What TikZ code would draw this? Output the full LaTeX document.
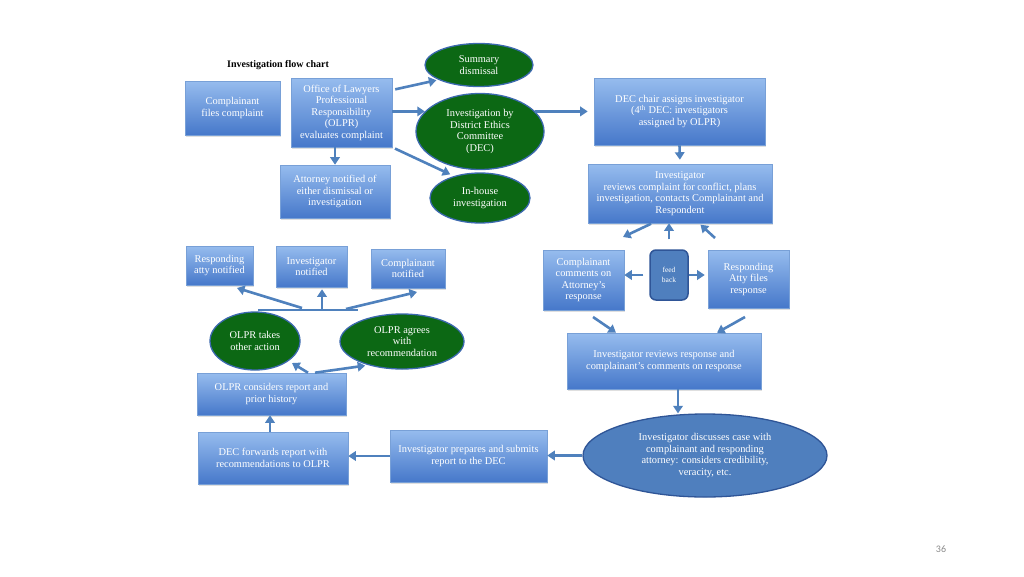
\documentclass[tikz,border=0pt]{standalone}
\usepackage{fontspec}
\setmainfont{Liberation Serif}
\newfontfamily\pgnumfont{Carlito}
\usetikzlibrary{arrows.meta,shapes.geometric,shadows}
\definecolor{arr}{RGB}{79,129,189}
\definecolor{boxtop}{RGB}{150,188,238}
\definecolor{boxbot}{RGB}{70,120,202}
\definecolor{boxline}{RGB}{120,160,215}
\definecolor{gfill}{RGB}{12,104,20}
\definecolor{gline}{RGB}{60,105,175}
\definecolor{bfill}{RGB}{79,127,190}
\definecolor{bline}{RGB}{47,85,151}
\begin{document}
\begin{tikzpicture}[x=1pt,y=-1pt,
  bx/.style={rectangle, draw=boxline, line width=0.6pt, top color=boxtop, bottom color=boxbot,
    text=white, align=center, font=\fontsize{10.4}{11.5}\selectfont, inner sep=1pt,
    drop shadow={opacity=0.25, shadow xshift=1pt, shadow yshift=-1.5pt}},
  gel/.style={ellipse, draw=gline, line width=1.3pt, fill=gfill, text=white, align=center,
    font=\fontsize{10.4}{11.5}\selectfont, inner sep=0pt},
  bel/.style={ellipse, draw=bline, line width=1.3pt, fill=bfill, text=white, align=center,
    font=\fontsize{10.4}{11.5}\selectfont, inner sep=0pt},
  fbbox/.style={rectangle, rounded corners=6pt, draw=bline, line width=1.5pt, fill=bfill, text=white,
    align=center, font=\fontsize{7.5}{10}\selectfont, inner sep=0pt},
  ar/.style={draw=arr, line width=2.6pt, -{Triangle[length=7.5pt,width=9.5pt]}},
  arline/.style={draw=arr, line width=2.6pt}
]
\fill[white] (0,0) rectangle (1024,576);
\useasboundingbox (0,0) rectangle (1024,576);

\node[font=\bfseries\fontsize{10}{11}\selectfont] (title) at (278,65) {Investigation flow chart};
\node[font=\pgnumfont\fontsize{10}{11}\selectfont, text=black!45] (pg) at (941,549) {36};

% top row
\node[bx, minimum width=95pt, minimum height=54pt] (cf) at (232.5,108) {Complainant\\files complaint};
\node[bx, minimum width=101pt, minimum height=69pt] (olpr) at (341.5,112.5) {Office of Lawyers\\Professional\\Responsibility\\(OLPR)\\evaluates complaint};
\node[bx, minimum width=110pt, minimum height=53pt] (atty) at (335,191.5) {Attorney notified of\\either dismissal or\\investigation};
\node[gel, minimum width=108pt, minimum height=43pt] (sum) at (479,65) {Summary\\dismissal};
\node[gel, minimum width=128pt, minimum height=76pt] (dec) at (480,131.5) {Investigation by\\District Ethics\\Committee\\(DEC)};
\node[gel, minimum width=100pt, minimum height=50pt] (inh) at (480,198) {In-house\\investigation};
\node[bx, minimum width=171pt, minimum height=67pt] (chair) at (679.5,111.5) {DEC chair assigns investigator\\(4\textsuperscript{th} DEC: investigators\\assigned by OLPR)};
\node[bx, minimum width=184pt, minimum height=59pt] (inv) at (680,193.5) {Investigator\\reviews complaint for conflict, plans\\investigation, contacts Complainant and\\Respondent};

% feedback row
\node[bx, minimum width=81pt, minimum height=60pt] (cc) at (583.5,280) {Complainant\\comments on\\Attorney’s\\response};
\node[fbbox, minimum width=38pt, minimum height=50pt] (fb) at (669,275) {feed\\back};
\node[bx, minimum width=81pt, minimum height=58pt] (ra) at (748.5,279) {Responding\\Atty files\\response};
\node[bx, minimum width=194pt, minimum height=56pt] (irr) at (664,361) {Investigator reviews response and\\complainant’s comments on response};
\node[bel, minimum width=244pt, minimum height=83pt] (disc) at (705,455.5) {Investigator discusses case with\\complainant and responding\\attorney: considers credibility,\\veracity, etc.};

% bottom row
\node[bx, minimum width=157pt, minimum height=52pt] (prep) at (468.5,456) {Investigator prepares and submits\\report to the DEC};
\node[bx, minimum width=150pt, minimum height=52pt] (fwd) at (273,458) {DEC forwards report with\\recommendations to OLPR};
\node[bx, minimum width=149pt, minimum height=42pt] (cons) at (271.5,394) {OLPR considers report and\\prior history};
\node[gel, minimum width=90pt, minimum height=58pt] (other) at (255,341) {OLPR takes\\other action};
\node[gel, minimum width=124pt, minimum height=55pt] (agree) at (402,341.5) {OLPR agrees\\with\\recommendation};
\node[bx, minimum width=67pt, minimum height=39pt] (rn) at (219.5,265.5) {Responding\\atty notified};
\node[bx, minimum width=71pt, minimum height=41pt] (in) at (311.5,266.5) {Investigator\\notified};
\node[bx, minimum width=74pt, minimum height=39pt] (cn) at (408,268.5) {Complainant\\notified};

% free ends
\coordinate (fbl) at (623,237);
\coordinate (fbr) at (715,238);
\coordinate (c1) at (593,317);
\coordinate (c2) at (745,317);
\coordinate (o1) at (292,363);
\coordinate (b1) at (258,310);
\coordinate (b2) at (358,310);
\coordinate (n1) at (237,288);
\coordinate (n3) at (417,292);

% connectors
\draw[ar, shorten <=3pt, shorten >=2pt] (olpr.east |- 0,90) -- (sum.200);
\draw[ar] (olpr.east |- dec.160) -- (dec.160);
\draw[ar, shorten <=3pt, shorten >=4pt] (olpr.south east) -- (inh.140);
\draw[ar] (atty.north |- olpr.south) -- (atty.north);
\draw[ar, shorten >=6pt] (dec.20) -- (chair.west |- dec.20);
\draw[ar, shorten >=4pt] (chair.south) -- (inv.north);
\draw[ar, shorten <=10pt] (fb.north) -- (inv.south -| fb.north);
\draw[ar, shorten <=6pt] (fb.west) -- (cc.east |- fb.west);
\draw[ar, shorten >=3pt] (fb.east) -- (ra.west |- fb.east);
\draw[ar, shorten <=1pt] (652,0 |- inv.south) -- (fbl);
\draw[ar, shorten >=2pt] (fbr) -- (699,0 |- inv.south);
\draw[ar] (c1) -- (616,0 |- irr.north);
\draw[ar] (c2) -- (717,0 |- irr.north);
\draw[ar] (678,0 |- irr.south) -- (678,0 |- disc.north);
\draw[ar] (disc.west) -- (prep.east |- disc.west);
\draw[ar] (prep.west) -- (fwd.east |- prep.west);
\draw[ar] (270,0 |- fwd.north) -- (270,0 |- cons.south);
\draw[ar] (308,0 |- cons.north) -- (o1);
\draw[ar, shorten >=3pt] (315,0 |- cons.north) -- (agree.215);
\draw[arline] (b1) -- (b2);
\draw[ar] (302,308) -- (n1);
\draw[ar, shorten >=2pt] (322,310) -- (in.south -| 322,0);
\draw[ar] (346,309) -- (n3);
\end{tikzpicture}
\end{document}
